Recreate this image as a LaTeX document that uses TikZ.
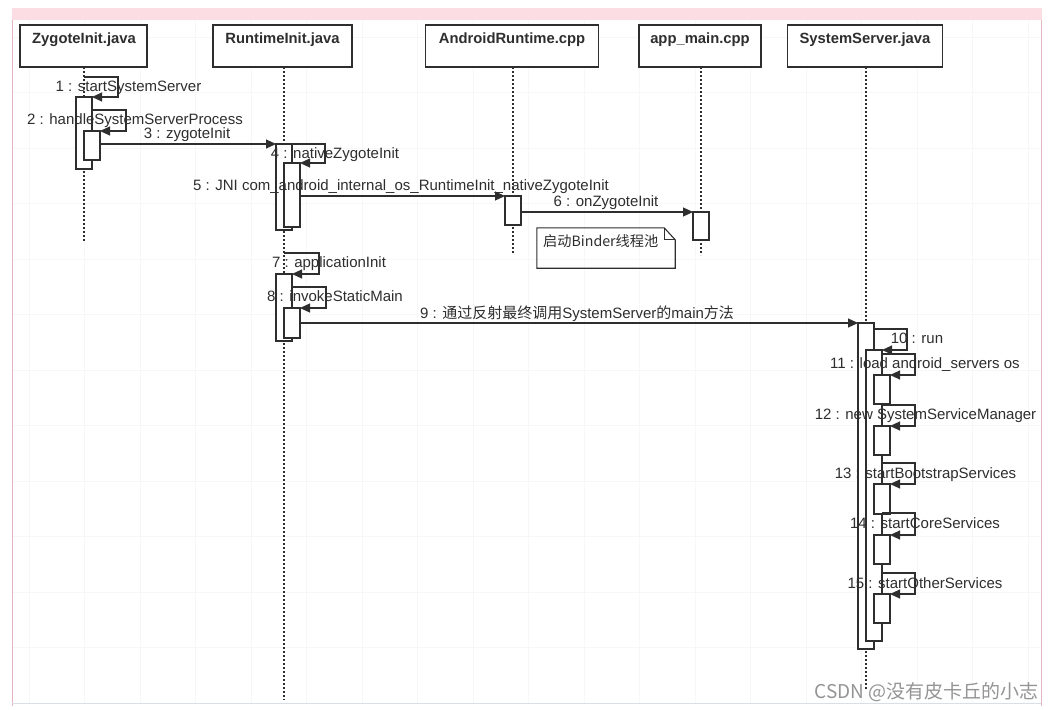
\documentclass[tikz,border=0pt]{standalone}
\usepackage{fontspec}
\setmainfont{Liberation Sans}
\newfontfamily\cjk{Noto Sans CJK SC}
\usetikzlibrary{arrows.meta}
\definecolor{bandpink}{HTML}{FCDDE3}
\definecolor{framepink}{HTML}{E2B6C0}
\definecolor{framebot}{HTML}{D9DEE8}
\definecolor{inkc}{HTML}{2E2E2E}
\tikzset{
  hdr/.style={draw=inkc, line width=1.2pt, fill=white, inner sep=0pt, outer sep=0pt},
  htxt/.style={font=\bfseries\fontsize{14.8}{16}\selectfont, text=inkc, inner sep=0pt, anchor=base},
  actbox/.style={draw=inkc, line width=1.1pt, fill=white, inner sep=0pt, outer sep=0pt},
  msg/.style={draw=inkc, line width=1.1pt, -{Triangle[length=10pt,width=9pt]}},
  life/.style={draw=inkc, line width=1.4pt, dash pattern=on 2pt off 2pt},
  lbl/.style={font=\fontsize{15}{17}\selectfont, text=inkc, inner sep=0pt, anchor=base},
  notebox/.style={draw=inkc, line width=1.1pt},
}
\newcommand\actbar[5]{\node[actbox, minimum width={(#4-#2)*1pt}, minimum height={(#5-#3)*1pt}] (#1) at ({(#2+#4)/2},{(#3+#5)/2}) {};}
\begin{document}
\begin{tikzpicture}[x=1pt,y=-1pt]
\useasboundingbox (0,0) rectangle (1056,709);
\fill[white] (0,0) rectangle (1056,709);
% faint grid
\foreach \gx in {29,84.5,...,1040} \draw[black!3, line width=0.6pt] (\gx,20) -- (\gx,703);
\foreach \gy in {37,92.5,...,700} \draw[black!3, line width=0.6pt] (12,\gy) -- (1041,\gy);
% frame
\fill[bandpink] (12,8) rectangle (1042,20);
\draw[framepink, line width=0.8pt] (12,20) -- (12,706);
\draw[framepink, line width=0.8pt] (1041,20) -- (1041,706);
\draw[framebot, line width=1pt] (12,703.5) -- (1041,703.5);

% headers
\node[hdr, minimum width=127pt, minimum height=42pt] (zh) at (83.5,46) {};
\node[hdr, minimum width=139pt, minimum height=42pt] (rh) at (282.5,46) {};
\node[hdr, minimum width=173pt, minimum height=42pt] (ah) at (512,46) {};
\node[hdr, minimum width=122pt, minimum height=42pt] (mh) at (700,46) {};
\node[hdr, minimum width=155pt, minimum height=42pt] (sh) at (865,46) {};
\node[htxt] (zt) at (84,44) {ZygoteInit.java};
\node[htxt] (rt) at (282.5,44) {RuntimeInit.java};
\node[htxt] (at) at (512,44) {AndroidRuntime.cpp};
\node[htxt] (mt) at (700,44) {app\_main.cpp};
\node[htxt] (st) at (865,44) {SystemServer.java};

% lifelines
\coordinate (zl) at (84,67);
\coordinate (rl) at (284,67);
\coordinate (al) at (513,67);
\coordinate (ml) at (701,67);
\coordinate (sl) at (866,67);
\draw[life] (zl) -- (84,242);
\draw[life] (rl) -- (284,700);
\draw[life] (al) -- (513,254);
\draw[life] (ml) -- (701,255);
\draw[life] (sl) -- (866,690);

% activation bars
\actbar{Z1}{76}{97}{92}{169}
\actbar{Z2}{84}{131}{100}{160}
\actbar{R1}{276}{144}{292}{230}
\actbar{R2}{284}{163}{300}{227}
\actbar{A1}{505}{196}{521}{225}
\actbar{M1}{693}{212}{709}{240}
\actbar{R3}{276}{274}{292}{341}
\actbar{R4}{284}{308}{300}{338}
\actbar{S1}{858}{323}{874}{649}
\actbar{S2}{866}{350}{882}{641}
\actbar{S3}{874}{375}{890}{404}
\actbar{S4}{874}{426}{890}{455}
\actbar{S5}{874}{484}{890}{514}
\actbar{S6}{874}{535}{890}{564}
\actbar{S7}{874}{594}{890}{623}

% messages
\draw[msg] (84,77) -- (118,77) -- (118,97) -- (Z1.north east);
\draw[msg] (Z1.east |- 0,110) -- (126,110) -- (126,131) -- (Z2.north east);
\draw[msg] (Z2.east |- 0,144) -- (R1.north west);
\draw[msg] (R1.north east) -- (325,144) -- (325,163) -- (R2.north east);
\draw[msg] (R2.east |- 0,196) -- (A1.north west);
\draw[msg] (A1.east |- 0,212) -- (M1.north west);
\draw[msg] (284,253) -- (319,253) -- (319,274) -- (R3.north east);
\draw[msg] (R3.east |- 0,287) -- (326,287) -- (326,308) -- (R4.north east);
\draw[msg] (R4.east |- 0,323) -- (S1.north west);
\draw[msg] (S1.east |- 0,329) -- (907,329) -- (907,350) -- (S2.north east);
\draw[msg] (S2.east |- 0,354) -- (915,354) -- (915,375) -- (S3.north east);
\draw[msg] (S2.east |- 0,405) -- (915,405) -- (915,426) -- (S4.north east);
\draw[msg] (S2.east |- 0,463) -- (915,463) -- (915,484) -- (S5.north east);
\draw[msg] (S2.east |- 0,513) -- (915,513) -- (915,535) -- (S6.north east);
\draw[msg] (S2.east |- 0,573) -- (915,573) -- (915,594) -- (S7.north east);

% note
\node[minimum width=138pt, minimum height=40pt, inner sep=0pt] (note) at (606,248) {};
\draw[notebox] (note.north west) -- ([xshift=-11pt]note.north east) -- ([yshift=-12pt]note.north east) -- (note.south east) -- (note.south west) -- cycle;
\draw[notebox] ([xshift=-11pt]note.north east) -- ([xshift=-11pt,yshift=-12pt]note.north east) -- ([yshift=-12pt]note.north east);
\node[lbl, anchor=base west, font=\cjk\fontsize{14.2}{16}\selectfont] (notet) at (543,246.5) {启动Binder线程池};

% labels
\node[lbl] (l1) at (128.5,91) {1 : startSystemServer};
\node[lbl] (l2) at (135,124) {2 : handleSystemServerProcess};
\node[lbl] (l3) at (187,138) {3 : zygoteInit};
\node[lbl] (l4) at (335,158) {4 : nativeZygoteInit};
\node[lbl] (l5) at (401,190) {5 : JNI com\_android\_internal\_os\_RuntimeInit\_nativeZygoteInit};
\node[lbl] (l6) at (606,206) {6 : onZygoteInit};
\node[lbl] (l7) at (329,267) {7 : applicationInit};
\node[lbl] (l8) at (335,301) {8 : invokeStaticMain};
\node[lbl] (l9) at (577,318) {9 : {\cjk 通过反射最终调用}SystemServer{\cjk 的}main{\cjk 方法}};
\node[lbl] (l10) at (917,343) {10 : run};
\node[lbl] (l11) at (925,368) {11 : load android\_servers os};
\node[lbl] (l12) at (925.5,419) {12 : new SystemServiceManager};
\node[lbl] (l13) at (925.5,478) {13 : startBootstrapServices};
\node[lbl] (l14) at (925,528) {14 : startCoreServices};
\node[lbl] (l15) at (925,588) {15 : startOtherServices};

% watermark
\node[anchor=base east, inner sep=0pt, font=\cjk\fontsize{19}{20}\selectfont, text=black!42] (wm) at (1039,698) {CSDN @没有皮卡丘的小志};
\end{tikzpicture}
\end{document}
